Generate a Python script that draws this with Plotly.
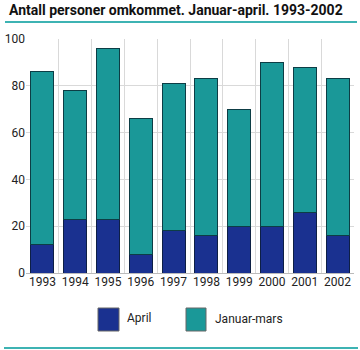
import plotly.graph_objects as go

years = ["1993", "1994", "1995", "1996", "1997", "1998", "1999", "2000", "2001", "2002"]
april = [12, 23, 23, 8, 18, 16, 20, 20, 26, 16]
januar_mars = [74, 55, 73, 58, 63, 67, 50, 70, 62, 67]
y_ticks = [0, 20, 40, 60, 80, 100]

april_color = "#1a3190"
jm_color = "#1a9898"
rule_color = "#3db3b3"
font_family = "Roboto, DejaVu Sans, sans-serif"

fig = go.Figure()
fig.add_trace(go.Bar(
    x=years, y=april, name="April",
    marker=dict(color=april_color, line=dict(color="#0d1f45", width=1)),
    width=0.7, showlegend=False,
))
fig.add_trace(go.Bar(
    x=years, y=januar_mars, name="Januar-mars",
    marker=dict(color=jm_color, line=dict(color="#0d3d45", width=1)),
    width=0.7, showlegend=False,
))

# plot area in pixels: x 26..354, y 39..273
L, R, T, B = 26, 354, 39, 273
W, H = R - L, B - T


def px(x):
    return (x - L) / W


def py(y):
    return (B - y) / H


shapes = [
    dict(type="line", xref="paper", yref="paper", x0=px(5), x1=px(357),
         y0=py(22), y1=py(22), line=dict(color=rule_color, width=2)),
    dict(type="line", xref="paper", yref="paper", x0=px(4), x1=px(358),
         y0=py(348), y1=py(348), line=dict(color=rule_color, width=2)),
    dict(type="rect", xref="paper", yref="paper", x0=px(98), x1=px(119),
         y0=py(331), y1=py(308), fillcolor=april_color,
         line=dict(color="#666666", width=1)),
    dict(type="rect", xref="paper", yref="paper", x0=px(186), x1=px(206),
         y0=py(331), y1=py(308), fillcolor=jm_color,
         line=dict(color="#666666", width=1)),
]

annotations = [
    dict(text="<b>Antall personer omkommet. Januar-april. 1993-2002</b>",
         xref="paper", yref="paper", x=px(7), y=py(10), xanchor="left",
         yanchor="middle", showarrow=False,
         font=dict(family=font_family, size=14, color="#111111")),
    dict(text="April", xref="paper", yref="paper", x=px(125), y=py(318),
         xanchor="left", yanchor="middle", showarrow=False,
         font=dict(family=font_family, size=12, color="#222222")),
    dict(text="Januar-mars", xref="paper", yref="paper", x=px(213), y=py(319),
         xanchor="left", yanchor="middle", showarrow=False,
         font=dict(family=font_family, size=12, color="#222222")),
]

fig.update_layout(
    barmode="stack",
    width=360, height=350,
    margin=dict(l=L, r=360 - R, t=T, b=350 - B, pad=0),
    paper_bgcolor="white", plot_bgcolor="white",
    font=dict(family=font_family, size=12, color="#222222"),
    shapes=shapes, annotations=annotations,
    xaxis=dict(type="category", tickson="boundaries", showgrid=True,
               gridcolor="#d9d9d9", gridwidth=1, ticks="", showline=False,
               range=[-0.5, 9.5], tickangle=0, tickfont=dict(size=12)),
    yaxis=dict(range=[0, 100], tickvals=y_ticks, showgrid=True,
               gridcolor="#d9d9d9", gridwidth=1, zeroline=True,
               zerolinecolor="#bbbbbb", zerolinewidth=1, ticks="",
               showline=False, tickfont=dict(size=12)),
)

fig.write_html("out.html")
